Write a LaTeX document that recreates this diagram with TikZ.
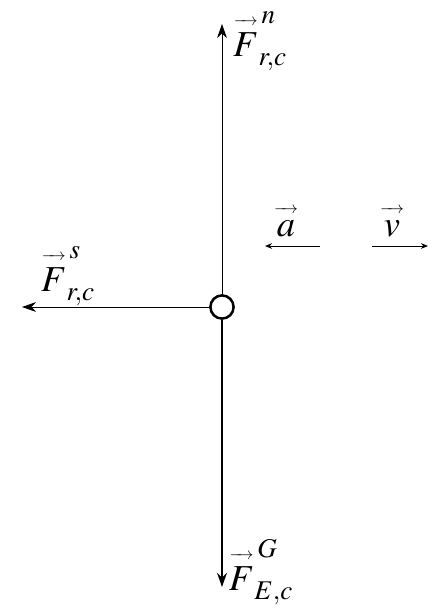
\documentclass[tikz,border=0pt]{standalone}
\usepackage{amsmath}
\usepackage{mathptmx}
\usetikzlibrary{arrows.meta}
\newcommand{\arrowvec}[1]{\overset{\hbox to 17pt{\fontsize{12}{12}\selectfont\rightarrowfill}\vphantom{\rule{0pt}{6pt}}}{#1}}
\tikzset{
	force/.style={line width=0.6, -{Stealth[length=10pt,width=7pt]}},
	motion/.style={line width=0.6, -{Stealth[length=5pt,width=4pt]}},
	vecname/.style={inner sep=0, font=\fontsize{26}{30}\selectfont},
}
\begin{document}
\begin{tikzpicture}[x=0.025cm, y=-0.025cm]
	\useasboundingbox (0,0) rectangle (440,613);

	% body
	\node [circle, draw, line width=1.8, minimum size=0.58cm, inner sep=0] (body) at (222,307) {};
	\coordinate (ntip) at (222,24);
	\coordinate (gtip) at (222,587);
	\coordinate (stip) at (22,307);

	\draw [force] (body.north) -- (ntip);
	\draw [force, line width=1.5] (body.south) -- (gtip);
	\draw [force] (body.west) -- (stip);

	% motion
	\coordinate (astart) at (320,246);
	\coordinate (aend) at (265,246);
	\coordinate (vstart) at (372,246);
	\coordinate (vend) at (428,246);
	\draw [motion] (astart) -- (aend);
	\draw [motion] (vstart) -- (vend);

	\node [vecname] (Fn) at (260,41) {$\arrowvec{F}^{\,n}_{r,c}$};
	\node [vecname] (Fs) at (68,276) {$\arrowvec{F}^{\,s}_{r,c}$};
	\node [vecname] (FG) at (261,572) {$\arrowvec{F}^{\,G}_{E,c}$};
	\node [vecname] (accel) at (286,219) {$\arrowvec{a}$};
	\node [vecname] (veloc) at (392,219) {$\arrowvec{v}$};
\end{tikzpicture}
\end{document}
